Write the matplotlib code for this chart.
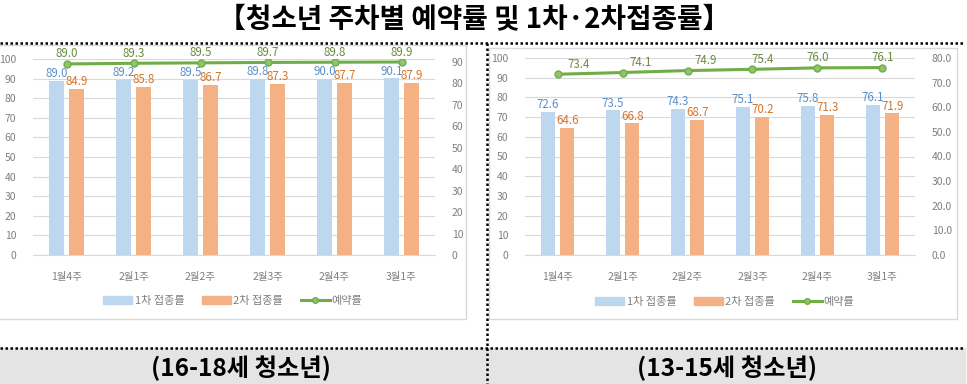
import numpy as np
from matplotlib import pyplot as plt
from matplotlib.patches import Rectangle, Patch
from matplotlib.lines import Line2D

plt.rcParams['font.family'] = ['Noto Sans CJK KR', 'DejaVu Sans']
plt.rcParams['axes.unicode_minus'] = False

# 데이터
weeks = ['1월4주', '2월1주', '2월2주', '2월3주', '2월4주', '3월1주']

# 16-18세
dose1_old = [89.0, 89.2, 89.5, 89.8, 90.0, 90.1]
dose2_old = [84.9, 85.8, 86.7, 87.3, 87.7, 87.9]
reserve_old = [89.0, 89.3, 89.5, 89.7, 89.8, 89.9]

# 13-15세
dose1_young = [72.6, 73.5, 74.3, 75.1, 75.8, 76.1]
dose2_young = [64.6, 66.8, 68.7, 70.2, 71.3, 71.9]
reserve_young = [73.4, 74.1, 74.9, 75.4, 76.0, 76.1]

BLUE = '#bdd7ee'
ORANGE = '#f4b183'
GREEN = '#70ad47'
BLUE_TXT = '#5b8fc9'
ORANGE_TXT = '#d2762f'
GREEN_TXT = '#6b8a3f'
TICK = '#7f7f7f'
GRID = '#d9d9d9'

W, H = 967, 384
fig = plt.figure(figsize=(W / 100, H / 100), dpi=100)


def px(x0, y0, x1, y1):
    # 픽셀 좌표 -> figure 비율
    return [x0 / W, 1 - y1 / H, (x1 - x0) / W, (y1 - y0) / H]


def draw_chart(rect, d1, d2, rv, r_max, r_ticks, r_fmt, line_dx, legend_xy):
    ax = fig.add_axes(rect)
    x = np.arange(len(weeks))
    bw = 0.22
    off = 0.15
    ax.bar(x - off, d1, bw, color=BLUE, zorder=2)
    ax.bar(x + off, d2, bw, color=ORANGE, zorder=2)
    ax.set_ylim(0, 100)
    ax.set_xlim(-0.5, len(weeks) - 0.5)
    ax.set_yticks(range(0, 101, 10))
    ax.grid(axis='y', color=GRID, linewidth=0.8, zorder=0)
    ax.set_axisbelow(True)
    for s in ['top', 'right', 'left']:
        ax.spines[s].set_visible(False)
    ax.spines['bottom'].set_color(GRID)
    ax.tick_params(axis='both', length=0, colors=TICK, labelsize=7.5)
    ax.tick_params(axis='y', pad=12)
    ax.tick_params(axis='x', pad=12)
    ax.set_xticks(x)
    ax.set_xticklabels(weeks)

    for i in range(len(weeks)):
        ax.annotate('%.1f' % d1[i], (x[i] - off, d1[i]), xytext=(0, 0.5),
                    textcoords='offset points', ha='center', va='bottom',
                    fontsize=8.3, color=BLUE_TXT)
        ax.annotate('%.1f' % d2[i], (x[i] + off, d2[i]), xytext=(0, 0.5),
                    textcoords='offset points', ha='center', va='bottom',
                    fontsize=8.3, color=ORANGE_TXT)

    ax2 = ax.twinx()
    ax2.plot(x, rv, color=GREEN, linewidth=2.2, marker='o', markersize=5,
             markerfacecolor='#8fc46c', markeredgecolor=GREEN, zorder=3)
    ax2.set_ylim(0, r_max)
    ax2.set_yticks(r_ticks)
    ax2.set_yticklabels([r_fmt % t for t in r_ticks])
    for s in ax2.spines.values():
        s.set_visible(False)
    ax2.tick_params(axis='y', length=0, colors=TICK, labelsize=7.5, pad=12)
    for i in range(len(weeks)):
        ax2.annotate('%.1f' % rv[i], (x[i], rv[i]), xytext=(line_dx[i], 2.5),
                     textcoords='offset points', ha='center', va='bottom',
                     fontsize=8.3, color=GREEN_TXT)

    handles = [Patch(color=BLUE), Patch(color=ORANGE),
               Line2D([], [], color=GREEN, linewidth=2.2, marker='o',
                      markersize=4, markerfacecolor='#8fc46c')]
    fig.legend(handles, ['1차 접종률', '2차 접종률', '예약률'],
               loc='center', bbox_to_anchor=(legend_xy[0] / W, 1 - legend_xy[1] / H),
               ncol=3, frameon=False, fontsize=8, labelcolor=TICK,
               handlelength=2.6, handleheight=0.7, handletextpad=0.2,
               columnspacing=1.6)
    return ax


# 차트 테두리
fig.patches.append(Rectangle((-2 / W, 1 - 319 / H), 468 / W, 274 / H,
                             transform=fig.transFigure, fill=False,
                             edgecolor=GRID, linewidth=1))
fig.patches.append(Rectangle((489 / W, 1 - 319 / H), 468 / W, 271 / H,
                             transform=fig.transFigure, fill=False,
                             edgecolor=GRID, linewidth=1))

draw_chart(px(33, 59, 435, 255), dose1_old, dose2_old, reserve_old,
           91.3, range(0, 91, 10), '%d', [0, 0, 0, 0, 0, 0], (233, 301))
draw_chart(px(525, 58, 915, 255), dose1_young, dose2_young, reserve_young,
           80, range(0, 81, 10), '%.1f', [15, 13, 13, 7, 0, 0], (725, 302))

# 하단 회색 띠
fig.patches.append(Rectangle((0, 0), 965 / W, 1 - 348 / H,
                             transform=fig.transFigure, color='#e4e4e4',
                             zorder=0))

# 점선
dot = dict(color='black', linewidth=1.8, linestyle=(0, (1, 1)),
           transform=fig.transFigure)
fig.add_artist(Line2D([0, 965 / W], [1 - 43 / H] * 2, **dot))
fig.add_artist(Line2D([0, 965 / W], [1 - 348 / H] * 2, **dot))
fig.add_artist(Line2D([487 / W] * 2, [1 - 43 / H, 0], **dot))

fig.text(474 / W, 1 - 20 / H, '【청소년 주차별 예약률 및 1차·2차접종률】',
         ha='center', va='center', fontsize=20, fontweight='heavy')
fig.text(241 / W, 1 - 368 / H, '(16-18세 청소년)', ha='center', va='center',
         fontsize=17.5, fontweight='heavy')
fig.text(727 / W, 1 - 368 / H, '(13-15세 청소년)', ha='center', va='center',
         fontsize=17.5, fontweight='heavy')

plt.savefig('out.png', dpi=100)
